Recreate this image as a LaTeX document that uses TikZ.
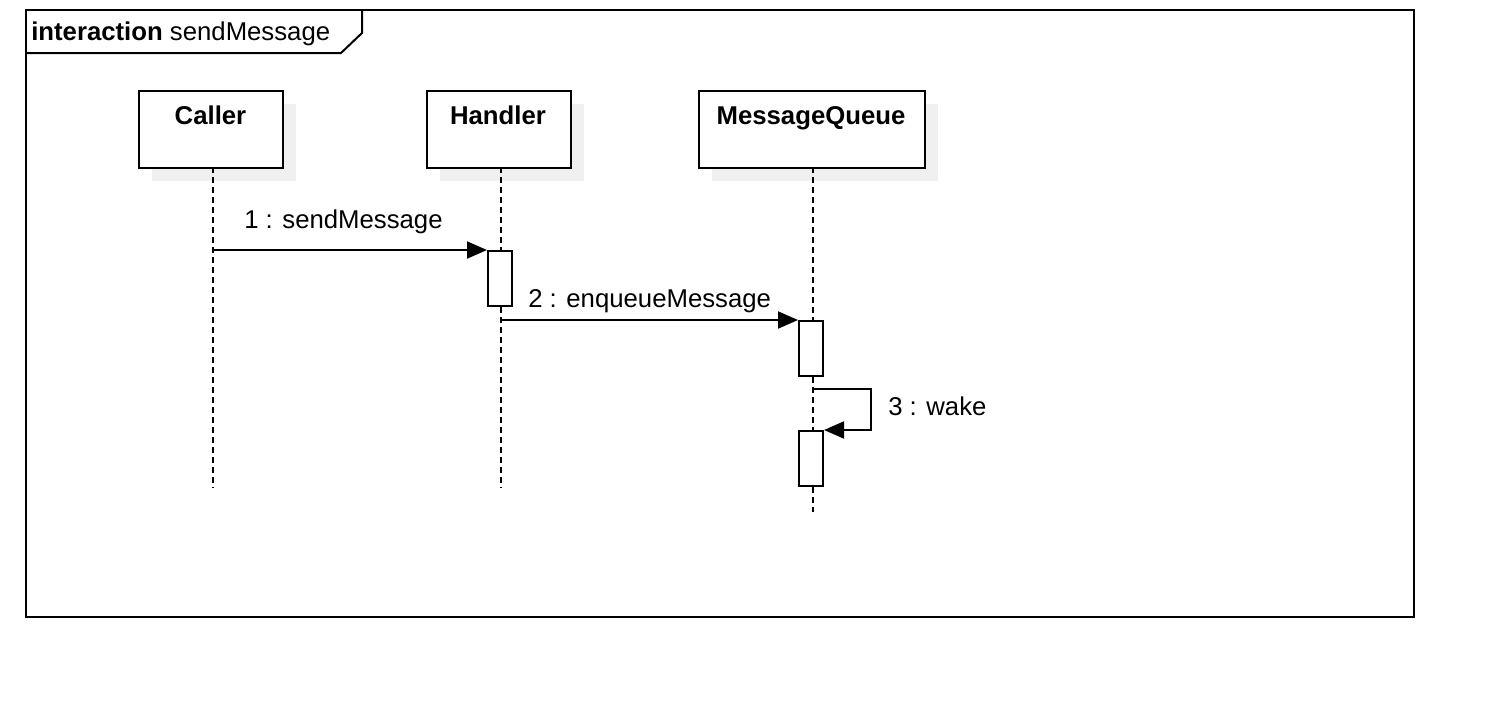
\documentclass[tikz,border=0pt]{standalone}
\usepackage{fontspec}
\setmainfont{Liberation Sans}
\usetikzlibrary{arrows.meta}
\begin{document}
\begin{tikzpicture}[x=0.75pt,y=-0.75pt,
  txt/.style={inner sep=0pt,font=\fontsize{19.3}{23}\selectfont},
  ln/.style={line width=1.5pt},
  headbox/.style={draw,ln,fill=white,inner sep=0pt,minimum height=57.75pt,anchor=north west},
  shade/.style={fill=black!6,draw=none},
  lifeline/.style={line width=1.3pt,dash pattern=on 4.5pt off 3pt},
  actbox/.style={draw,ln,fill=white,inner sep=0pt,minimum width=18pt,minimum height=41.25pt,anchor=north west},
  msg/.style={ln,-{Triangle[length=15pt,width=12.75pt]}}]
\useasboundingbox (0,0) rectangle (1488,708);

% interaction frame with its name tab
\draw[ln] (26,10) rectangle (1414,617);
\draw[ln] (362,10) -- (362,33) -- (341,53) -- (26,53);
\node[txt,anchor=base west] (frametitle) at (31,40) {\textbf{interaction} sendMessage};

% shadows of the lifeline heads
\fill[shade] (152,104) rectangle ++(144,77);
\fill[shade] (440,104) rectangle ++(144,77);
\fill[shade] (712,104) rectangle ++(226,77);

% lifeline heads
\node[headbox,minimum width=108pt] (caller) at (138,90) {};
\node[headbox,minimum width=108pt] (handler) at (426,90) {};
\node[headbox,minimum width=169.5pt] (mq) at (698,90) {};
\node[txt,anchor=base,font=\fontsize{19.3}{23}\selectfont\bfseries] (callerlbl) at (210.5,124) {Caller};
\node[txt,anchor=base,font=\fontsize{19.3}{23}\selectfont\bfseries] (handlerlbl) at (498,124) {Handler};
\node[txt,anchor=base,font=\fontsize{19.3}{23}\selectfont\bfseries] (mqlbl) at (811,124) {MessageQueue};

% lifelines
\coordinate (cl) at (213,167);
\coordinate (hl) at (501,167);
\coordinate (ml) at (813,167);
\draw[lifeline] (cl) -- (213,488);
\draw[lifeline] (hl) -- (501,488);
\draw[lifeline] (ml) -- (813,512);

% activations
\node[actbox] (act1) at (487,250) {};
\node[actbox] (act2) at (798,320) {};
\node[actbox] (act3) at (798,430) {};

% messages
\draw[msg] (cl |- act1.north west) -- (act1.north west);
\node[txt,anchor=base west] (m1) at (244,228) {1 : sendMessage};

\draw[msg] (hl |- act2.north west) -- (act2.north west);
\node[txt,anchor=base west] (m2) at (528,307) {2 : enqueueMessage};

\coordinate (selfstart) at (813,389);
\coordinate (selfturn) at (871,389);
\draw[msg] (selfstart) -- (selfturn) -- (selfturn |- act3.north east) -- (act3.north east);
\node[txt,anchor=base west] (m3) at (888,415) {3 : wake};
\end{tikzpicture}
\end{document}
